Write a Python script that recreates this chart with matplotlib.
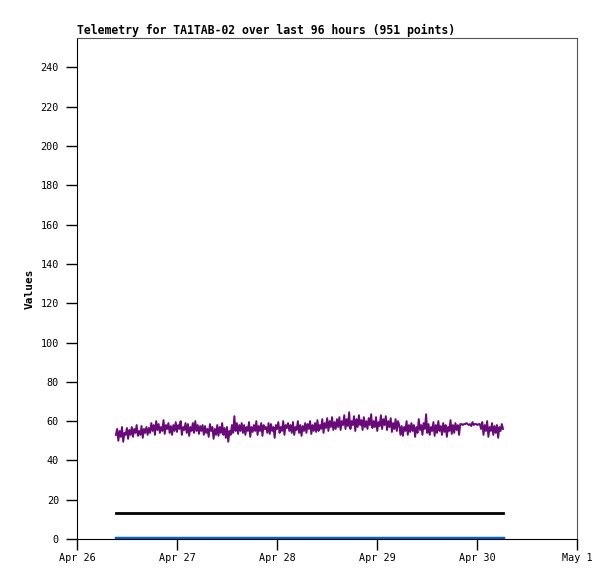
import matplotlib
matplotlib.use("Agg")
import matplotlib.pyplot as plt
import matplotlib.dates as mdates
import pandas as pd

title = "Telemetry for TA1TAB-02 over last 96 hours (951 points)"
start = "2024-04-26 09:20"
end = "2024-04-30 06:15"

purple_values = [
    53, 56, 50, 55, 52, 57, 49.5, 54, 53, 56.5, 51, 55.5, 53, 57, 52, 56, 54, 58, 52.5, 55,
    53, 57.5, 51.5, 56, 54, 57, 53, 56.5,
    54, 59, 55, 58, 53, 60, 55.5, 58.5, 54, 57, 55, 60.5, 53.5, 58, 56, 59, 54, 57.5, 53, 58,
    55, 59.5, 54.5, 58, 56, 60, 53, 57, 55.5, 59, 54, 58.5, 52.5, 57, 55, 59, 54, 60, 55, 58,
    53.5, 57.5,
    55, 58, 53, 57.5, 54, 56, 52, 58.5, 55, 57, 51, 56, 53, 58, 52.5, 57, 54, 59, 53, 56.5,
    51.5, 57, 49.5, 55, 53, 58, 54, 62.5, 55, 59, 53.5, 58, 55,
    59, 54, 58, 53, 57, 55, 59.5, 52, 57, 54.5, 58, 55, 60, 53, 57.5, 55, 59, 52.5, 58, 56,
    57, 54, 59, 53.5, 58.5, 55, 57, 51.5, 58, 56, 59.5, 54, 57, 55, 60, 53, 58, 56.5, 59, 55,
    58, 54, 59.5, 53, 57, 55.5, 60, 54, 58, 52.5, 57.5, 55, 59, 54, 58.5, 56, 60, 53.5, 58, 55,
    59, 54.5, 60.5, 55, 58, 56, 61, 54, 59, 56.5, 61.5, 55, 60, 57, 62, 55.5, 59.5, 56, 61,
    57, 62, 55.5, 60, 58, 63, 56, 61, 57.5, 64.5, 56, 60, 58, 62.5, 55, 61, 57, 63, 58, 60.5,
    55.5, 62, 57, 60, 56, 61.5, 58, 63.5, 56.5, 60, 57, 62, 55, 59.5, 57.5, 63, 56, 61, 58, 62.5,
    55.5, 60, 57, 61.5, 54.5, 59, 56, 61, 55, 60,
    58, 53, 57.5, 52.5, 57, 55, 60, 53, 58, 54.5, 59, 55, 58, 52, 57, 54, 61, 55.5, 58, 53,
    59, 56, 63.5, 54, 58.5, 53, 57, 55, 59.5, 52.5, 58, 54, 60, 55, 57.5, 53, 59, 54.5, 58, 52,
    57, 55, 60.5, 53.5, 58, 54, 59, 55.5, 58, 53,
    58.5, 58.5, 58, 58.5, 58.5, 59, 58.5, 58, 58.5, 57.5, 59.5, 58, 58.5, 58.5, 58, 58.5, 58.5,
    56, 59.5, 53, 58, 55, 60, 52, 57, 55, 59, 53, 57.5, 54, 58, 51.5, 57, 55, 58.5, 56,
]
black_values = [13.3, 13.3]
blue_values = [0.3, 0.3]

times = pd.date_range(start, end, periods=len(purple_values))
ends = pd.to_datetime([start, end])

fig = plt.figure(figsize=(6.15, 5.79), dpi=100)
ax = fig.add_axes([77 / 615, 40 / 579, 500 / 615, 501 / 579])

ax.plot(times, purple_values, color="#680a78", lw=1.4)
ax.plot(ends, black_values, color="black", lw=2)
ax.plot(ends, blue_values, color="#0066cc", lw=2.5)

ax.set_xlim(pd.Timestamp("2024-04-26"), pd.Timestamp("2024-05-01"))
ax.set_ylim(0, 255)
ax.set_yticks(range(0, 241, 20))
ax.xaxis.set_major_locator(mdates.DayLocator())
ax.xaxis.set_major_formatter(mdates.DateFormatter("%b %-d"))

mono = "DejaVu Sans Mono"
ax.tick_params(direction="out", length=8, width=1, labelsize=7.3, pad=2)
ax.tick_params(axis="y", pad=5)
for lab in ax.get_xticklabels() + ax.get_yticklabels():
    lab.set_family(mono)
ax.set_ylabel("Values", family=mono, fontsize=8, fontweight="bold", labelpad=4)
ax.set_title(title, loc="left", family=mono, fontsize=8.3, fontweight="bold", pad=3)

for s in ("top", "right"):
    ax.spines[s].set_color("#555555")

fig.savefig("out.png", dpi=100)
